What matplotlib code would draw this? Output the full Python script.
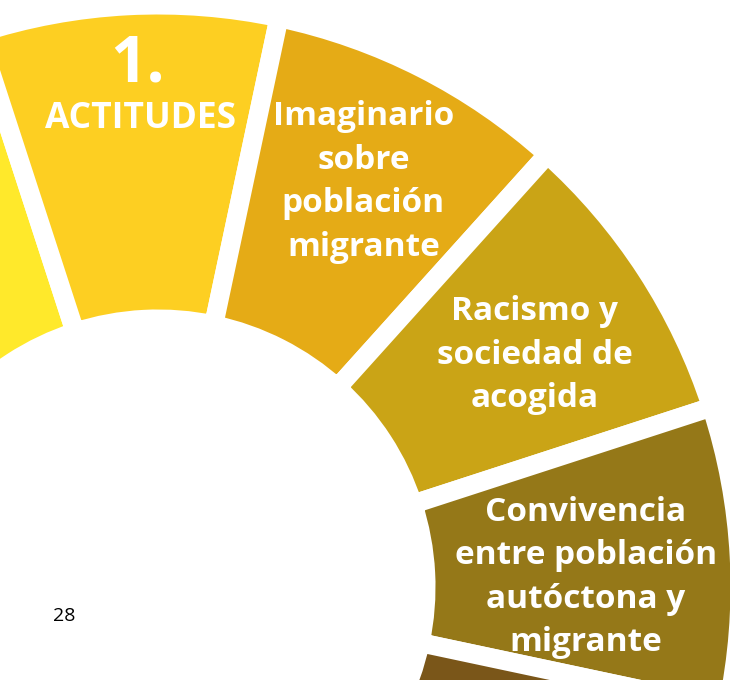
import matplotlib.pyplot as plt
import numpy as np

# datos: 12 sectores iguales, solo 6 visibles en el recorte
categorias = ['', 'ACTITUDES', 'Imaginario\nsobre\npoblación\nmigrante',
              'Racismo y\nsociedad de\nacogida',
              'Convivencia\nentre población\nautóctona y\nmigrante', '', 'resto']
valores = [1, 1, 1, 1, 1, 1, 6]
colores = ['#FFE92B', '#FDCF22', '#E5AB16', '#CAA416', '#957818', '#7A5619', 'white']

plt.rcParams['font.family'] = ['Open Sans', 'DejaVu Sans']

fig = plt.figure(figsize=(7.3, 6.8), dpi=100)
ax = fig.add_axes([0, 0, 1, 1])

# centro y radios en píxeles (y hacia arriba)
cx, cy = 158, 93
R = 582
wedges, _ = ax.pie(valores, colors=colores, startangle=138, counterclock=False,
                   radius=R, center=(cx, cy), frame=False,
                   wedgeprops=dict(width=314, edgecolor='white', linewidth=13.7))
ax.set_xlim(0, 730)
ax.set_ylim(0, 680)
ax.set_aspect('equal')
ax.axis('off')

# etiquetas: (radio, desfase de ángulo) respecto al centro del sector
pos = {2: (454, 0.1), 3: (442, -1.4), 4: (428, -1.7)}
for i, (r, da) in pos.items():
    w = wedges[i]
    th = np.deg2rad((w.theta1 + w.theta2) / 2 + da)
    ax.text(cx + r * np.cos(th), cy + r * np.sin(th), categorias[i],
            ha='center', va='center', color='white', fontsize=24,
            fontweight='bold', linespacing=1.42)

# bloque 1: número grande y título
w = wedges[1]
th = np.deg2rad((w.theta1 + w.theta2) / 2 - 0.8)
ax.text(cx + 468 * np.cos(th), cy + 468 * np.sin(th), categorias[1], ha='center',
        va='center', color='white', fontsize=25.5, fontweight='bold')
th = np.deg2rad((w.theta1 + w.theta2) / 2 - 0.7)
ax.text(cx + 522 * np.cos(th), cy + 522 * np.sin(th), '1.', ha='center', va='center',
        color='white', fontsize=46, fontweight='bold')

# número de página
ax.text(64, 680 - 616, '28', ha='center', va='center', fontsize=14, color='black')

fig.savefig('out.png', dpi=100)
